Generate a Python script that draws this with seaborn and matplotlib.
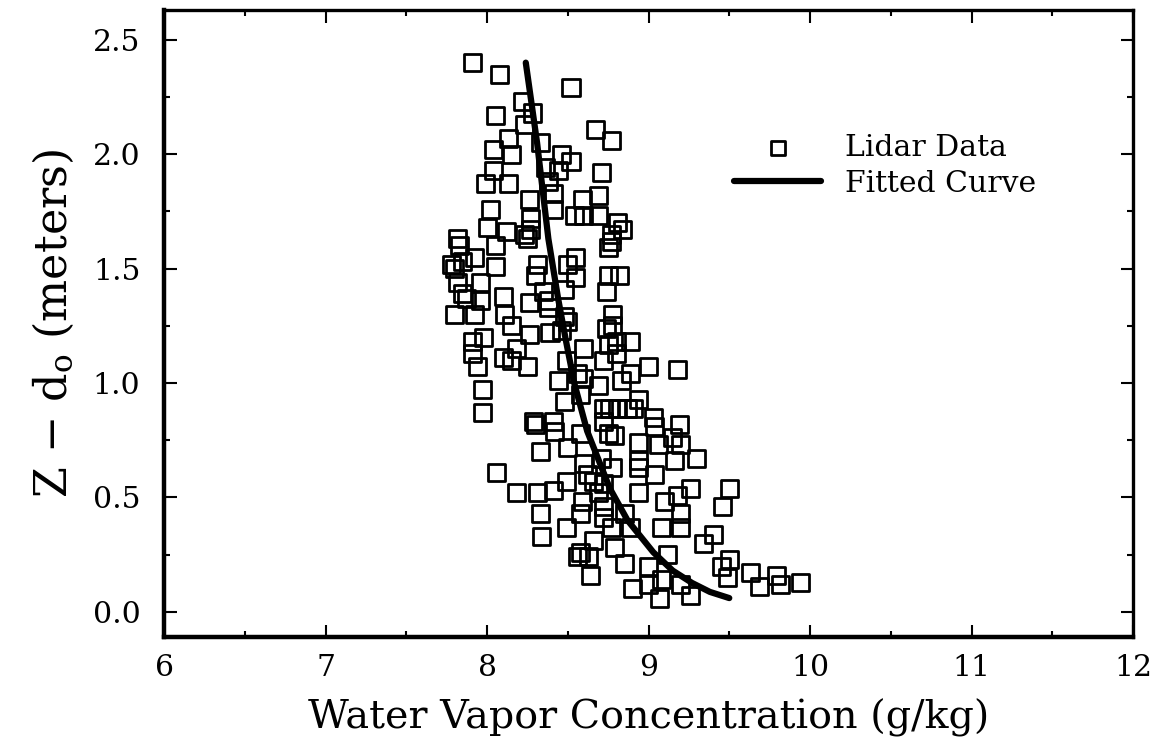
import numpy as np
import pandas as pd
import matplotlib
matplotlib.use("Agg")
import matplotlib.pyplot as plt
from matplotlib.ticker import MultipleLocator, FormatStrFormatter
import seaborn as sns

# Lidar water vapour samples: concentration (g/kg) and height above displacement (m)
vapor = [
    7.91, 8.08, 8.52, 8.22, 8.28, 8.05, 8.23, 8.67, 8.77, 8.13,
    8.33, 8.04, 8.15, 8.46, 8.52, 8.71, 8.04, 8.36, 8.44, 7.99,
    8.13, 8.38, 8.41, 8.59, 8.69, 8.26, 8.02, 8.27, 8.41, 8.54,
    8.60, 8.69, 8.00, 8.12, 8.23, 8.27, 8.81, 8.84, 8.77, 7.82,
    7.83, 8.05, 8.25, 8.77, 8.75, 7.92, 7.78, 7.85, 8.05, 8.31,
    8.50, 8.55, 7.80, 7.82, 7.96, 8.30, 8.55, 8.75, 8.82, 7.85,
    7.87, 7.96, 8.10, 8.35, 8.38, 8.48, 8.74, 8.26, 8.38, 7.80,
    7.92, 8.11, 8.48, 8.78, 8.15, 8.26, 8.39, 8.46, 8.50, 8.74,
    8.78, 7.98, 7.91, 8.18, 8.60, 8.75, 8.80, 8.89, 7.91, 8.10,
    8.15, 8.49, 8.72, 8.80, 7.94, 8.25, 9.00, 9.18, 8.56, 8.89,
    8.44, 8.60, 8.69, 8.83, 8.94, 7.97, 8.48, 8.58, 8.72, 8.76,
    8.81, 8.87, 8.91, 7.97, 8.29, 8.41, 8.72, 9.03, 8.42, 8.58,
    8.75, 8.79, 8.94, 9.04, 9.19, 9.15, 9.06, 9.20, 8.33, 8.50,
    8.71, 8.94, 8.60, 8.78, 8.94, 9.30, 9.16, 8.06, 8.62, 9.04,
    8.49, 8.66, 8.72, 8.18, 8.31, 8.41, 8.69, 8.94, 9.26, 9.50,
    9.18, 8.59, 8.72, 9.10, 9.46, 8.85, 8.58, 8.33, 9.20, 8.72,
    8.89, 8.49, 8.77, 9.08, 9.20, 8.34, 9.40, 8.66, 9.34, 8.79,
    8.58, 8.63, 8.56, 9.12, 9.50, 8.85, 9.00, 9.45, 8.64, 9.08,
    9.49, 9.63, 9.79, 9.69, 9.82, 9.94, 8.90, 9.00, 9.20, 9.26,
    9.07, 8.30,
]
height = [
    2.40, 2.35, 2.29, 2.23, 2.18, 2.17, 2.13, 2.11, 2.06, 2.07,
    2.05, 2.02, 2.00, 2.00, 1.97, 1.92, 1.93, 1.94, 1.93, 1.87,
    1.87, 1.88, 1.83, 1.80, 1.82, 1.80, 1.76, 1.72, 1.76, 1.73,
    1.73, 1.73, 1.68, 1.66, 1.65, 1.67, 1.70, 1.67, 1.65, 1.63,
    1.60, 1.60, 1.63, 1.62, 1.59, 1.55, 1.52, 1.53, 1.51, 1.52,
    1.52, 1.55, 1.50, 1.44, 1.44, 1.47, 1.46, 1.47, 1.47, 1.39,
    1.37, 1.36, 1.38, 1.40, 1.36, 1.41, 1.40, 1.35, 1.33, 1.30,
    1.30, 1.30, 1.29, 1.30, 1.25, 1.21, 1.22, 1.23, 1.27, 1.24,
    1.25, 1.20, 1.18, 1.15, 1.15, 1.17, 1.18, 1.18, 1.13, 1.11,
    1.10, 1.10, 1.10, 1.13, 1.07, 1.07, 1.07, 1.06, 1.04, 1.04,
    1.01, 1.02, 0.99, 1.01, 0.93, 0.97, 0.92, 0.95, 0.89, 0.89,
    0.89, 0.89, 0.89, 0.87, 0.83, 0.83, 0.83, 0.85, 0.79, 0.78,
    0.78, 0.77, 0.74, 0.81, 0.82, 0.76, 0.73, 0.73, 0.70, 0.72,
    0.67, 0.66, 0.65, 0.63, 0.63, 0.67, 0.66, 0.61, 0.60, 0.60,
    0.57, 0.57, 0.56, 0.52, 0.52, 0.53, 0.52, 0.52, 0.54, 0.54,
    0.51, 0.48, 0.46, 0.48, 0.46, 0.43, 0.43, 0.43, 0.43, 0.41,
    0.37, 0.37, 0.37, 0.37, 0.37, 0.33, 0.34, 0.31, 0.30, 0.28,
    0.26, 0.24, 0.24, 0.25, 0.23, 0.21, 0.20, 0.20, 0.16, 0.14,
    0.15, 0.17, 0.16, 0.11, 0.12, 0.13, 0.10, 0.12, 0.12, 0.07,
    0.06, 0.82,
]

# Fitted profile, listed from the top of the layer downwards
fit_height = [2.40, 2.05, 1.63, 1.37, 1.18, 1.00, 0.79, 0.54, 0.40, 0.33, 0.26, 0.18, 0.126, 0.087, 0.06]
fit_vapor = [8.24, 8.31, 8.38, 8.44, 8.49, 8.54, 8.62, 8.76, 8.87, 8.95, 9.03, 9.15, 9.27, 9.38, 9.50]

x_ticks = [6, 7, 8, 9, 10, 11, 12]
y_ticks = [0.0, 0.5, 1.0, 1.5, 2.0, 2.5]

sns.set_theme(style="ticks")
plt.rcParams["font.family"] = ["DejaVu Serif"]
plt.rcParams["mathtext.fontset"] = "dejavuserif"
plt.rcParams["text.color"] = "black"
plt.rcParams["axes.labelcolor"] = "black"

samples = pd.DataFrame({"vapor": vapor, "height": height})
fit = pd.DataFrame({"vapor": fit_vapor, "height": fit_height})

fig = plt.figure(figsize=(11.56, 7.43), dpi=100)
ax = fig.add_axes([0.1419, 0.1427, 0.8382, 0.8438])

sns.scatterplot(data=samples, x="vapor", y="height", ax=ax, marker="s", s=150,
                facecolor="none", edgecolor="black", linewidth=2.0,
                label="Lidar Data", zorder=2)
sns.lineplot(data=fit, x="vapor", y="height", ax=ax, sort=False, estimator=None,
             color="black", linewidth=4.5, label="Fitted Curve", zorder=3)

ax.set_xlim(6, 12)
ax.set_ylim(-0.11, 2.63)
ax.set_xticks(x_ticks)
ax.set_yticks(y_ticks)
ax.xaxis.set_minor_locator(MultipleLocator(0.5))
ax.yaxis.set_minor_locator(MultipleLocator(0.25))
ax.yaxis.set_major_formatter(FormatStrFormatter("%.1f"))

ax.tick_params(which="both", direction="in", top=True, right=True, colors="black",
               labelsize=21.5, width=1.5)
ax.tick_params(which="major", length=9)
ax.tick_params(axis="y", which="major", pad=17)
ax.tick_params(axis="x", which="major", pad=12)
ax.tick_params(which="minor", length=4)

for side in ["left", "bottom"]:
    ax.spines[side].set_linewidth(3.2)
for side in ["top", "right"]:
    ax.spines[side].set_linewidth(2.4)
for sp in ax.spines.values():
    sp.set_color("black")

ax.set_xlabel("Water Vapor Concentration (g/kg)", fontsize=28.5, labelpad=12)
ax.set_ylabel(r"Z $-$ d$_{\mathrm{o}}$ (meters)", fontsize=32, labelpad=12)

leg = ax.legend(loc="upper left", bbox_to_anchor=(0.561, 0.845), frameon=False,
                fontsize=21.5, handlelength=2.9, handletextpad=0.8,
                labelspacing=0.25, markerscale=0.85)

fig.savefig("out.png", dpi=100)
